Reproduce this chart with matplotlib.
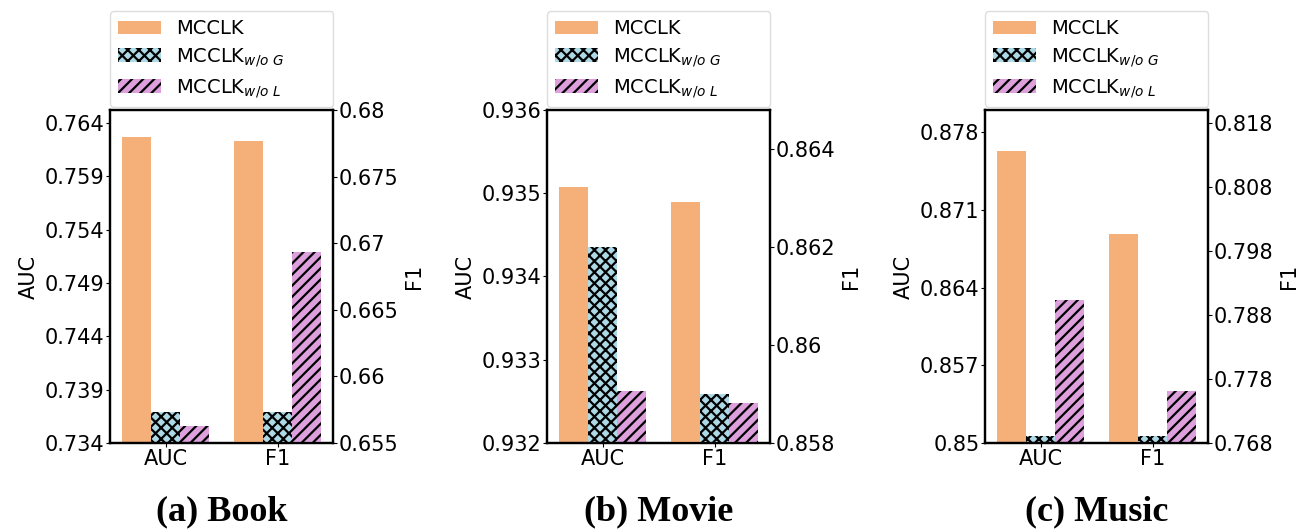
import matplotlib
matplotlib.use("Agg")
import matplotlib.pyplot as plt

# values (AUC on left axis, F1 on right axis)
panels = ["(a) Book", "(b) Movie", "(c) Music"]
labels = ["MCCLK", r"MCCLK$_{w/o\ G}$", r"MCCLK$_{w/o\ L}$"]

auc_book = [0.7627, 0.7369, 0.7356]
f1_book = [0.6777, 0.6573, 0.6693]
auc_movie = [0.93507, 0.93436, 0.93262]
f1_movie = [0.86293, 0.85901, 0.85882]
auc_music = [0.87626, 0.8506, 0.86292]
f1_music = [0.8007, 0.7691, 0.7761]

auc_ticks = [
    [0.734, 0.739, 0.744, 0.749, 0.754, 0.759, 0.764],
    [0.932, 0.933, 0.934, 0.935, 0.936],
    [0.85, 0.857, 0.864, 0.871, 0.878],
]
f1_ticks = [
    [0.655, 0.66, 0.665, 0.67, 0.675, 0.68],
    [0.858, 0.86, 0.862, 0.864],
    [0.768, 0.778, 0.788, 0.798, 0.808, 0.818],
]
auc_lims = [(0.734, 0.7652), (0.932, 0.936), (0.85, 0.880)]
f1_lims = [(0.655, 0.68), (0.858, 0.8648), (0.768, 0.820)]

colors = ["#F5AF78", "#ADD8E6", "#DDA0DD"]
hatches = [None, "xxx", "///"]

plt.rcParams["hatch.linewidth"] = 1.6
plt.rcParams["mathtext.fontset"] = "dejavusans"

fig = plt.figure(figsize=(12.99, 5.30), dpi=100)
lefts = [0.0847, 0.4211, 0.7583]
width = 0.26

auc_all = [auc_book, auc_movie, auc_music]
f1_all = [f1_book, f1_movie, f1_music]

for i, left in enumerate(lefts):
    ax = fig.add_axes([left, 0.1642, 0.172, 0.6283])
    ax2 = ax.twinx()
    handles = []
    for k in range(3):
        off = (k - 1) * width
        kw = dict(color=colors[k], width=width, linewidth=0)
        if hatches[k]:
            kw.update(hatch=hatches[k], edgecolor="black")
        h = ax.bar(0 + off, auc_all[i][k], **kw)
        ax2.bar(1 + off, f1_all[i][k], **kw)
        handles.append(h)

    ax.set_xlim(-0.5, 1.5)
    ax.set_ylim(*auc_lims[i])
    ax2.set_ylim(*f1_lims[i])
    ax.set_yticks(auc_ticks[i])
    ax.set_yticklabels([f"{v:g}" for v in auc_ticks[i]])
    ax2.set_yticks(f1_ticks[i])
    ax2.set_yticklabels([f"{v:g}" for v in f1_ticks[i]])
    ax.set_xticks([0, 1])
    ax.set_xticklabels(["AUC", "F1"])
    for a in (ax, ax2):
        a.tick_params(labelsize=15, length=3, pad=1)
        for s in a.spines.values():
            s.set_linewidth(1.6)
    ax.set_ylabel("AUC", fontsize=15, labelpad=4)
    ax2.set_ylabel("F1", fontsize=15, labelpad=4)

    ax2.legend(handles, labels, loc="lower left", mode="expand",
               bbox_to_anchor=(0, 1.008, 1, 0.2), borderaxespad=0,
               fontsize=14, handlelength=2.2, labelspacing=0.4,
               framealpha=1, edgecolor="#dddddd", fancybox=True)

    fig.text(left + 0.086, 0.034, panels[i], ha="center", va="center",
             fontsize=26, fontweight="bold", family="Liberation Serif")

fig.savefig("out.png", dpi=100)
